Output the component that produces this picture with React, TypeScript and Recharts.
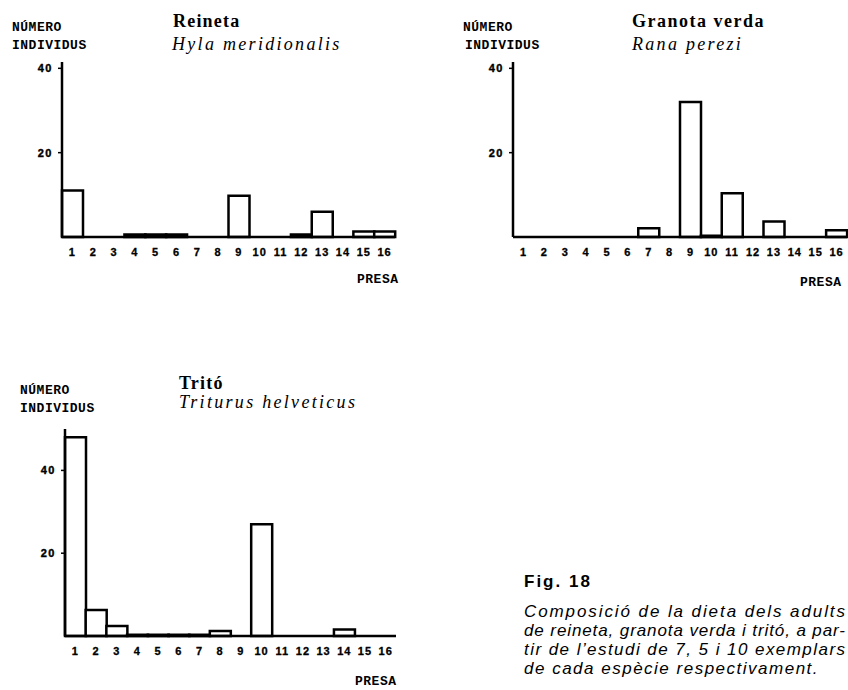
import React from 'react';
import { BarChart, Bar, XAxis, YAxis } from 'recharts';

// prey categories (PRESA 1..16)
const presa = ['1', '2', '3', '4', '5', '6', '7', '8', '9', '10', '11', '12', '13', '14', '15', '16'];

// number of prey individuals per category
const reineta = [11, 0, 0, 0.6, 0.6, 0.6, 0, 0, 9.8, 0, 0, 0.6, 6, 0, 1.3, 1.3];
const granota = [0, 0, 0, 0, 0, 0, 2.1, 0, 32, 0.3, 10.4, 0, 3.7, 0, 0, 1.6];
const trito = [48, 6.3, 2.4, 0.3, 0.3, 0.3, 0.3, 1.2, 0, 27, 0, 0, 0, 1.6, 0, 0];

const yTicks = [20, 40];

const captionLines = [
  'Composició de la dieta dels adults',
  'de reineta, granota verda i tritó, a par-',
  'tir de l’estudi de 7, 5 i 10 exemplars',
  'de cada espècie respectivament.',
];
// justified widths of the caption lines (last line is left ragged)
const captionWidths = [321, 321, 321, 0];

const mono = '"Liberation Mono", "DejaVu Sans Mono", monospace';
const serif = '"Liberation Serif", "DejaVu Serif", serif';
const sans = '"Liberation Sans", Arial, sans-serif';

const toRows = (vals: number[]) => presa.map((p, i) => ({ presa: p, n: vals[i] }));

const YTick = (props: any) => {
  const { x, y, payload } = props;
  return (
    <text
      x={x - 3}
      y={y + 4}
      textAnchor="end"
      fontFamily={sans}
      fontWeight="bold"
      fontSize={11}
      letterSpacing={1.5}
      fill="#000"
      stroke="#000"
      strokeWidth={0.4}
    >
      {payload.value}
    </text>
  );
};

const XTick = (props: any) => {
  const { x, y, payload } = props;
  return (
    <text
      x={x}
      y={y + 11}
      textAnchor="middle"
      fontFamily={sans}
      fontWeight="bold"
      fontSize={11}
      letterSpacing={1}
      fill="#000"
      stroke="#000"
      strokeWidth={0.3}
    >
      {payload.value}
    </text>
  );
};

interface PanelProps {
  left: number;
  top: number;
  width: number;
  height: number;
  margin: { top: number; right: number; bottom: number; left: number };
  vals: number[];
  yMax: number;
}

function Panel({ left, top, width, height, margin, vals, yMax }: PanelProps) {
  return (
    <div style={{ position: 'absolute', left, top }}>
      <BarChart width={width} height={height} data={toRows(vals)} margin={margin} barCategoryGap={0}>
        <XAxis
          dataKey="presa"
          interval={0}
          height={30}
          tickLine={false}
          axisLine={{ stroke: '#000', strokeWidth: 2.5 }}
          tick={<XTick />}
        />
        <YAxis
          type="number"
          domain={[0, yMax]}
          ticks={yTicks}
          width={30}
          tickSize={4}
          tickLine={{ stroke: '#000', strokeWidth: 1.5 }}
          axisLine={{ stroke: '#000', strokeWidth: 2.5 }}
          tick={<YTick />}
        />
        <Bar dataKey="n" fill="#fff" stroke="#000" strokeWidth={2.5} isAnimationActive={false} />
      </BarChart>
    </div>
  );
}

export default function App() {
  return (
    <div style={{ position: 'fixed', left: 0, top: 0, width: 848, height: 690, overflow: 'hidden', background: '#fff' }}>
      <Panel left={0} top={0} width={420} height={300} margin={{ top: 62, right: 25, bottom: 33, left: 32 }} vals={reineta} yMax={41.5} />
      <Panel left={430} top={0} width={418} height={300} margin={{ top: 62, right: 1, bottom: 33, left: 53 }} vals={granota} yMax={41.5} />
      <Panel left={0} top={380} width={420} height={310} margin={{ top: 49, right: 24, bottom: 24, left: 35 }} vals={trito} yMax={50} />

      <svg width={848} height={690} style={{ position: 'absolute', left: 0, top: 0, pointerEvents: 'none' }}>
        <g fontFamily={mono} fontWeight="bold" fontSize={13} letterSpacing={0.5} fill="#000">
          <text x={12} y={31}>NÚMERO</text>
          <text x={12} y={49}>INDIVIDUS</text>
          <text x={357} y={283}>PRESA</text>
          <text x={463} y={31}>NÚMERO</text>
          <text x={465} y={49}>INDIVIDUS</text>
          <text x={800} y={286}>PRESA</text>
          <text x={20} y={394}>NÚMERO</text>
          <text x={20} y={412}>INDIVIDUS</text>
          <text x={355} y={685}>PRESA</text>
        </g>
        <g fontFamily={serif} fontSize={18} fill="#000">
          <text x={173} y={27} fontWeight="bold" letterSpacing={1.2}>Reineta</text>
          <text x={172} y={50} fontStyle="italic" letterSpacing={2.3}>Hyla meridionalis</text>
          <text x={632} y={27} fontWeight="bold" letterSpacing={1.5}>Granota verda</text>
          <text x={632} y={50} fontStyle="italic" letterSpacing={2.3}>Rana perezi</text>
          <text x={179} y={389} fontWeight="bold" letterSpacing={1.2}>Tritó</text>
          <text x={179} y={408} fontStyle="italic" letterSpacing={2.3}>Triturus helveticus</text>
        </g>
        <g fontFamily={sans} fontSize={17} fill="#000">
          <text x={524} y={587} fontWeight="bold" letterSpacing={2}>Fig. 18</text>
          {captionLines.map((line, i) =>
            captionWidths[i] > 0 ? (
              <text key={i} x={524} y={617 + i * 19} fontStyle="italic" textLength={captionWidths[i]} lengthAdjust="spacing">
                {line}
              </text>
            ) : (
              <text key={i} x={524} y={617 + i * 19} fontStyle="italic" letterSpacing={1.5}>
                {line}
              </text>
            )
          )}
        </g>
      </svg>
    </div>
  );
}
